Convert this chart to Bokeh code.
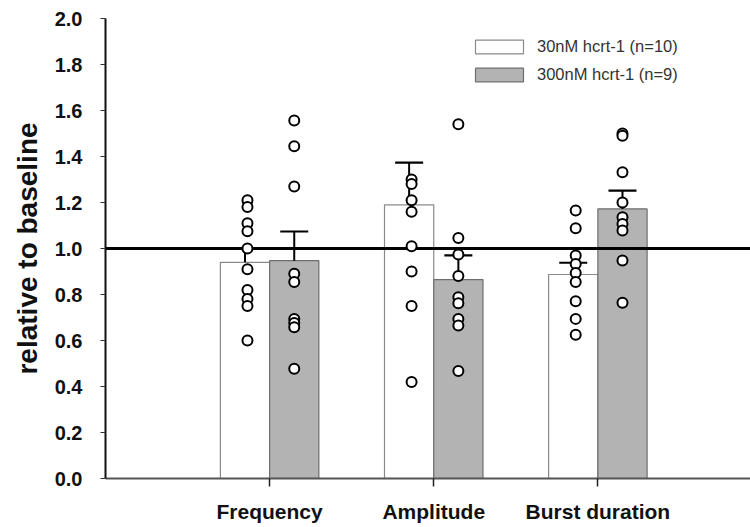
from bokeh.plotting import figure
from bokeh.models import (ColumnDataSource, Range1d, FixedTicker, NumeralTickFormatter,
                          Span, Legend, LegendItem)
from bokeh.transform import dodge
from bokeh.embed import file_html
from bokeh.resources import INLINE

# ---- data ----
categories = ["Frequency", "Amplitude", "Burst duration"]
mean_30 = [0.940, 1.190, 0.887]
sem_30 = [0.060, 0.183, 0.051]
mean_300 = [0.947, 0.865, 1.172]
sem_300 = [0.127, 0.105, 0.080]

freq_30 = [1.21, 1.18, 1.11, 1.075, 1.00, 0.91, 0.82, 0.78, 0.75, 0.60]
freq_300 = [1.557, 1.445, 1.27, 0.89, 0.854, 0.694, 0.676, 0.658, 0.477]
amp_30 = [1.30, 1.28, 1.21, 1.16, 1.01, 0.90, 0.75, 0.42]
amp_300 = [1.54, 1.046, 0.974, 0.88, 0.788, 0.762, 0.694, 0.665, 0.467]
burst_30 = [1.165, 1.088, 0.97, 0.933, 0.893, 0.854, 0.771, 0.694, 0.625]
burst_300 = [1.50, 1.49, 1.332, 1.20, 1.136, 1.107, 1.078, 0.948, 0.764]

legend_labels = ["30nM hcrt-1 (n=10)", "300nM hcrt-1 (n=9)"]
y_ticks = [0.0, 0.2, 0.4, 0.6, 0.8, 1.0, 1.2, 1.4, 1.6, 1.8, 2.0]
baseline = 1.0

# ---- sources ----
idx = [i + 1 for i in range(len(categories))]
bars = ColumnDataSource(dict(
    x=idx, m30=mean_30, m300=mean_300,
    t30=[m + s for m, s in zip(mean_30, sem_30)],
    t300=[m + s for m, s in zip(mean_300, sem_300)],
))

def pts(groups):
    xs, ys = [], []
    for i, g in enumerate(groups):
        xs += [i + 1] * len(g)
        ys += list(g)
    return ColumnDataSource(dict(x=xs, y=ys))

pts30 = pts([freq_30, amp_30, burst_30])
pts300 = pts([freq_300, amp_300, burst_300])

# ---- figure ----
p = figure(width=750, height=527, output_backend="svg", toolbar_location=None,
           x_range=Range1d(0, 3.93), y_range=Range1d(0, 2.0),
           min_border_left=105, min_border_right=0, min_border_top=18,
           min_border_bottom=49)
p.grid.visible = False
p.outline_line_color = None
p.background_fill_color = "white"
p.border_fill_color = "white"

W = 0.3
r30 = p.vbar(x=dodge("x", -0.15, range=p.x_range), top="m30", bottom=0, width=W,
             source=bars, fill_color="white", line_color="#8a8a8a", line_width=1.2,
             level="image")
r300 = p.vbar(x=dodge("x", 0.15, range=p.x_range), top="m300", bottom=0, width=W,
              source=bars, fill_color="#b3b3b3", line_color="#6e6e6e", line_width=1.2,
              level="image")

p.add_layout(Span(location=baseline, dimension="width", line_color="black",
                  line_width=3, level="underlay"))

# error bars (upper only)
for col_m, col_t, off in (("m30", "t30", -0.15), ("m300", "t300", 0.15)):
    p.segment(x0=dodge("x", off, range=p.x_range), x1=dodge("x", off, range=p.x_range),
              y0=col_m, y1=col_t, source=bars, line_color="black", line_width=2)
    p.scatter(x=dodge("x", off, range=p.x_range), y=col_t, source=bars, marker="dash",
              size=28, line_color="black", line_width=2.2)

# individual points
p.scatter(x=dodge("x", -0.135, range=p.x_range), y="y", source=pts30, marker="circle",
          size=10, fill_color="white", line_color="black", line_width=2)
p.scatter(x=dodge("x", 0.15, range=p.x_range), y="y", source=pts300, marker="circle",
          size=10, fill_color="white", line_color="black", line_width=2)

# ---- axes ----
xa = p.xaxis[0]
xa.ticker = FixedTicker(ticks=idx)
xa.major_label_overrides = {i: c for i, c in zip(idx, categories)}
xa.major_label_text_font = "Liberation Sans"
xa.major_label_text_font_style = "bold"
xa.major_label_text_font_size = "21px"
xa.major_label_text_color = "#111111"
xa.major_tick_out = 8
xa.major_tick_in = 0
xa.minor_tick_out = 0
xa.minor_tick_in = 0
xa.major_label_standoff = 13
xa.axis_line_color = "#555555"
xa.axis_line_width = 2
xa.major_tick_line_color = "#222222"
xa.major_tick_line_width = 1.5

ya = p.yaxis[0]
ya.ticker = FixedTicker(ticks=y_ticks)
ya.formatter = NumeralTickFormatter(format="0.0")
ya.major_label_text_font = "Liberation Sans"
ya.major_label_text_font_style = "bold"
ya.major_label_text_font_size = "20px"
ya.major_label_text_color = "#111111"
ya.major_tick_out = 5
ya.major_tick_in = 0
ya.minor_tick_out = 0
ya.minor_tick_in = 0
ya.major_label_standoff = 18
ya.axis_line_color = "#111111"
ya.axis_line_width = 2
ya.major_tick_line_color = "#333333"
ya.major_tick_line_width = 1
ya.axis_label = "relative to baseline"
ya.axis_label_text_font = "Liberation Sans"
ya.axis_label_text_font_style = "bold"
ya.axis_label_text_font_size = "28px"
ya.axis_label_text_color = "#111111"
ya.axis_label_standoff = 9

# ---- legend ----
legend = Legend(items=[LegendItem(label=legend_labels[0], renderers=[r30]),
                       LegendItem(label=legend_labels[1], renderers=[r300])],
                location=(364, 394), orientation="vertical",
                glyph_width=60, glyph_height=17, label_height=14,
                label_standoff=8, spacing=9, padding=0, margin=0,
                border_line_color=None, background_fill_alpha=0,
                label_text_font="Liberation Sans", label_text_font_size="16.5px",
                label_text_color="#333333")
p.add_layout(legend, "center")

open("out.html", "w").write(file_html(p, INLINE))
